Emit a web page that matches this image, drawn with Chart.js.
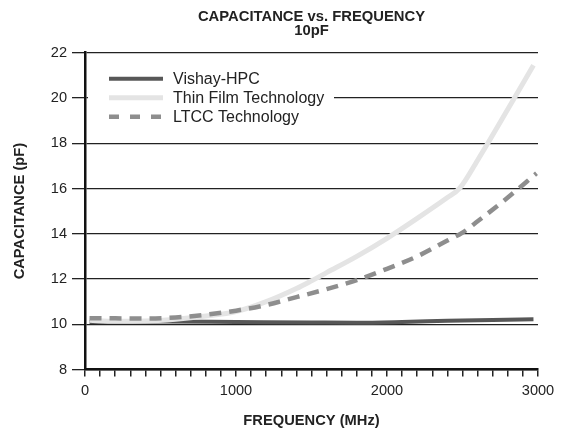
<!DOCTYPE html>
<html>
<head>
<meta charset="utf-8">
<script src="https://cdn.jsdelivr.net/npm/chart.js@4.4.1/dist/chart.umd.min.js"></script>
<style>
  html, body { margin: 0; padding: 0; background: #fff; }
  #box { width: 571px; height: 430px; }
</style>
</head>
<body>
<div id="box"><canvas id="chart"></canvas></div>
<script>
// values
const seriesNames = ['Vishay-HPC', 'Thin Film Technology', 'LTCC Technology']

const vishayFreq = [30, 500, 1000, 1500, 1800, 2100, 2400, 2700, 2970]
const vishayCap  = [10.10, 10.12, 10.10, 10.08, 10.07, 10.10, 10.15, 10.19, 10.22]

const thinFreq = [30, 200, 400, 600, 800, 1000, 1200, 1400, 1500, 1600, 1800, 2000, 2200, 2400, 2480, 2600, 2800, 2970]
const thinCap  = [10.18, 10.13, 10.14, 10.22, 10.36, 10.56, 11.0, 11.58, 11.92, 12.28, 13.0, 13.8, 14.68, 15.6, 16.0, 17.25, 19.5, 21.45]

const ltccFreq = [30, 200, 400, 600, 800, 1000, 1200, 1400, 1600, 1800, 2000, 2200, 2400, 2500, 2600, 2800, 2990]
const ltccCap  = [10.27, 10.26, 10.25, 10.30, 10.42, 10.60, 10.85, 11.20, 11.55, 11.95, 12.45, 13.0, 13.7, 14.05, 14.55, 15.6, 16.67]

const xTickLabels = [0, 1000, 2000, 3000]
const yTickLabels = [8, 10, 12, 14, 16, 18, 20, 22]

function points(xs, ys) {
  return xs.map((x, i) => ({ x: x, y: ys[i] }))
}

const font = "'Liberation Sans', Arial, Helvetica, sans-serif"
const ink = '#222'

// legend drawn inside the plot, on a white patch, like the original
const innerLegend = {
  id: 'innerLegend',
  afterDatasetsDraw(chart) {
    const ctx = chart.ctx
    const area = chart.chartArea
    const x0 = area.left + 24
    const y0 = area.top + 26
    ctx.save()
    ctx.fillStyle = '#fff'
    ctx.fillRect(area.left + 3, y0 - 11, 246, 60)
    chart.data.datasets.forEach((ds, i) => {
      const y = y0 + i * 19
      ctx.beginPath()
      ctx.strokeStyle = ds.borderColor
      ctx.lineWidth = ds.borderWidth
      ctx.setLineDash(ds.borderDash ? [10, 11] : [])
      ctx.moveTo(x0, y)
      ctx.lineTo(x0 + 54, y)
      ctx.stroke()
      ctx.setLineDash([])
      ctx.fillStyle = ink
      ctx.font = '16px ' + font
      ctx.textBaseline = 'middle'
      ctx.fillText(ds.label, x0 + 64, y + 1)
    })
    ctx.restore()
  }
}

new Chart(document.getElementById('chart'), {
  type: 'scatter',
  data: {
    datasets: [
      {
        label: seriesNames[0],
        data: points(vishayFreq, vishayCap),
        borderColor: '#575757',
        borderWidth: 4,
        order: 2
      },
      {
        label: seriesNames[1],
        data: points(thinFreq, thinCap),
        borderColor: '#e4e4e4',
        borderWidth: 5,
        order: 1
      },
      {
        label: seriesNames[2],
        data: points(ltccFreq, ltccCap),
        borderColor: '#8e8e8e',
        borderWidth: 4.5,
        borderDash: [12, 8],
        order: 0
      }
    ]
  },
  plugins: [innerLegend],
  options: {
    responsive: true,
    maintainAspectRatio: false,
    animation: false,
    showLine: true,
    elements: {
      point: { radius: 0, hoverRadius: 0 },
      line: { cubicInterpolationMode: 'monotone', borderCapStyle: 'butt' }
    },
    layout: { padding: { left: 0, right: 33, top: 0, bottom: 0 } },
    plugins: {
      legend: { display: false },
      tooltip: { enabled: false },
      title: {
        display: true,
        fullSize: false,
        text: ['CAPACITANCE vs. FREQUENCY', '10pF'],
        color: ink,
        font: { family: font, size: 14.8, weight: 'bold', lineHeight: 0.96 },
        padding: { top: 9.9, bottom: 14.4 }
      }
    },
    scales: {
      x: {
        type: 'linear',
        min: 0,
        max: 3000,
        afterFit(scale) { scale.height = 60.5 },
        afterBuildTicks(scale) {
          const t = []
          for (let v = 0; v <= 3000; v += 100) t.push({ value: v })
          scale.ticks = t
        },
        ticks: {
          autoSkip: false,
          maxRotation: 0,
          padding: 6,
          color: ink,
          font: { family: font, size: 14.6 },
          callback: (v) => xTickLabels.includes(v) ? String(v) : ''
        },
        grid: { drawOnChartArea: false, tickLength: 7, color: ink, lineWidth: 1.5 },
        border: { display: true, color: '#111', width: 2.5 },
        title: {
          display: true,
          text: 'FREQUENCY (MHz)',
          color: ink,
          font: { family: font, size: 14.7, weight: 'bold', lineHeight: 1.2 },
          padding: { top: 0, bottom: 0 }
        }
      },
      y: {
        min: 8,
        max: 22,
        afterFit(scale) { scale.width = 85 },
        afterBuildTicks(scale) {
          scale.ticks = yTickLabels.map(v => ({ value: v }))
        },
        ticks: {
          padding: 5,
          color: ink,
          font: { family: font, size: 14.6 }
        },
        grid: { color: ink, lineWidth: 1.3, tickLength: 13 },
        border: { display: true, color: '#111', width: 2.5 },
        title: {
          display: true,
          text: 'CAPACITANCE (pF)',
          color: ink,
          font: { family: font, size: 14.7, weight: 'bold', lineHeight: 1.2 },
          padding: { top: 11, bottom: 0 }
        }
      }
    }
  }
})
</script>
</body>
</html>
